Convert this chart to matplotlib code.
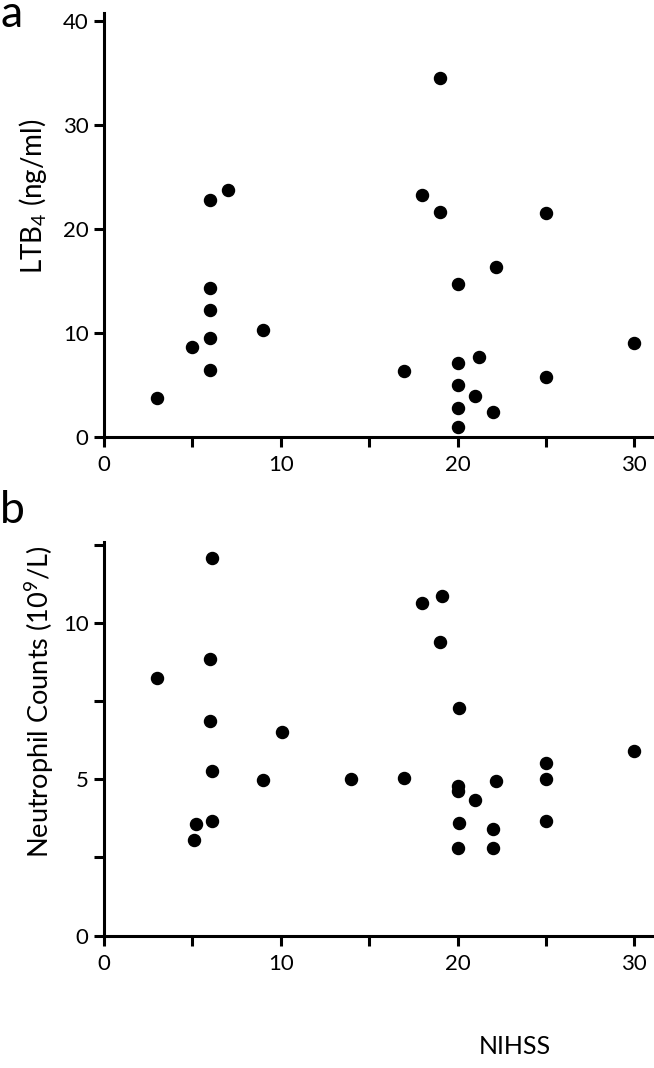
import matplotlib
matplotlib.use("Agg")
import matplotlib.pyplot as plt

plt.rcParams['font.family'] = ['Lato', 'DejaVu Sans']
plt.rcParams['mathtext.fontset'] = 'custom'
plt.rcParams['mathtext.rm'] = 'Lato'

# Panel a: NIHSS vs LTB4
nihss_a = [3, 5, 6, 6, 6, 6, 6, 7, 9, 17, 18, 19, 19, 20, 20, 20, 20, 20,
           21, 21.2, 22, 22.2, 25, 25, 30]
ltb4 = [3.8, 8.7, 6.5, 9.5, 12.2, 14.3, 22.8, 23.7, 10.3, 6.4, 23.3, 34.5,
        21.6, 14.7, 7.1, 5.0, 2.8, 1.0, 4.0, 7.7, 2.4, 16.3, 21.5, 5.8, 9.0]

# Panel b: NIHSS vs neutrophil counts
nihss_b = [3, 5.1, 5.2, 6.1, 6, 6, 6.1, 6.1, 9, 10.1, 14, 17, 18, 19.1, 19,
           20.1, 20, 20.05, 20.1, 20, 21, 22.2, 22, 22, 25, 25, 25, 30]
neutro = [8.25, 3.07, 3.57, 12.07, 8.83, 6.85, 5.26, 3.67, 4.99, 6.51, 5.0,
          5.03, 10.65, 10.87, 9.38, 7.28, 4.8, 4.62, 3.61, 2.79, 4.33, 4.93,
          3.41, 2.79, 5.53, 5.0, 3.67, 5.9]

xticks = [0, 5, 10, 15, 20, 25, 30]
xticklabels = ['0', '', '10', '', '20', '', '30']

fig = plt.figure(figsize=(6.54, 10.68), dpi=100)
ax_a = fig.add_axes([0.1589, 0.5906, 0.838, 0.397])
ax_b = fig.add_axes([0.1589, 0.1239, 0.838, 0.369])


def style(ax):
    for side in ['top', 'right']:
        ax.spines[side].set_visible(False)
    for side in ['left', 'bottom']:
        ax.spines[side].set_linewidth(2.2)
    ax.set_xlim(0, 31)
    ax.set_xticks(xticks)
    ax.set_xticklabels(xticklabels)
    ax.tick_params(axis='x', direction='out', length=7, width=2.2,
                   labelsize=16, pad=6)
    ax.tick_params(axis='y', direction='out', length=7, width=2.2,
                   labelsize=16, pad=4)


ax_a.scatter(nihss_a, ltb4, s=75, color='black', zorder=3, clip_on=False)
style(ax_a)
ax_a.set_ylim(0, 40.7)
ax_a.set_yticks([0, 10, 20, 30, 40])

ax_b.scatter(nihss_b, neutro, s=75, color='black', zorder=3, clip_on=False)
style(ax_b)
ax_b.set_ylim(0, 12.6)
ax_b.set_yticks([0, 2.5, 5, 7.5, 10, 12.5])
ax_b.set_yticklabels(['0', '', '5', '', '10', ''])

fig.text(0.051, 0.8165, r'LTB$_\mathregular{4}$ (ng/ml)', fontsize=20,
         rotation=90, ha='center', va='center')
fig.text(0.0605, 0.343, r'Neutrophil Counts (10$^\mathregular{9}$/L)',
         fontsize=19.5, rotation=90, ha='center', va='center')
fig.text(0.787, 0.0197, 'NIHSS', fontsize=18, ha='center', va='center')
fig.text(0.0, 0.975, 'a', fontsize=32, ha='left', va='baseline')
fig.text(0.0, 0.5103, 'b', fontsize=32, ha='left', va='baseline')

fig.savefig('out.png', dpi=100)
